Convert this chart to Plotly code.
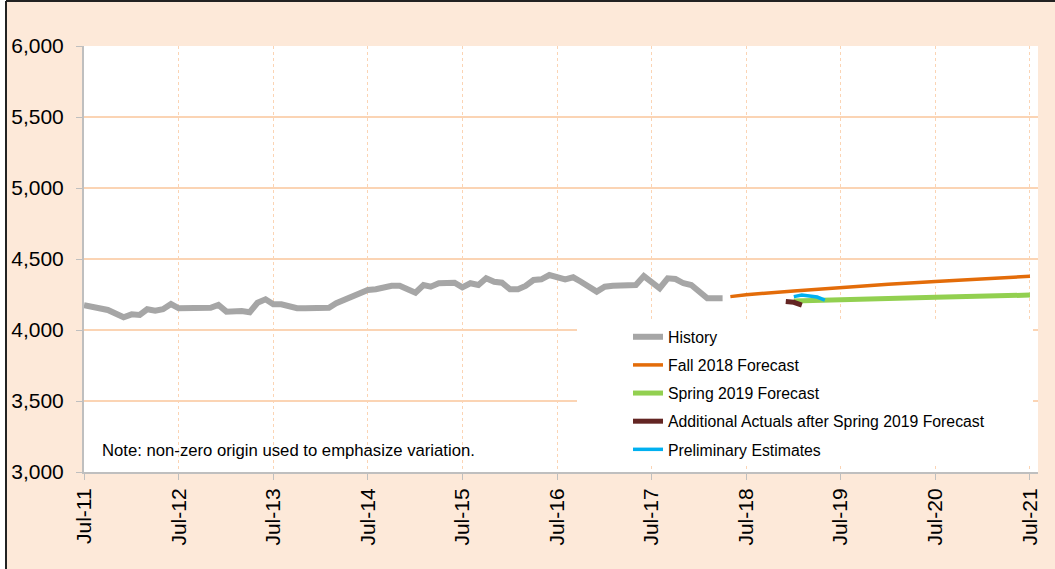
import plotly.graph_objects as go

# ---------------- data ----------------
history_dates = [
    "2011-07-01", "2011-09-01", "2011-10-01", "2011-12-01", "2012-01-01", "2012-02-01",
    "2012-03-01", "2012-04-01", "2012-05-01", "2012-06-01", "2012-07-01", "2012-11-01",
    "2012-12-01", "2013-01-01", "2013-03-01", "2013-04-01", "2013-05-01", "2013-06-01",
    "2013-07-01", "2013-08-01", "2013-10-01", "2013-11-01", "2014-02-01", "2014-03-01",
    "2014-05-01", "2014-06-01", "2014-07-01", "2014-08-01", "2014-10-01", "2014-11-01",
    "2015-01-01", "2015-02-01", "2015-03-01", "2015-04-01", "2015-06-01", "2015-07-01",
    "2015-08-01", "2015-09-01", "2015-10-01", "2015-11-01", "2015-12-01", "2016-01-01",
    "2016-02-01", "2016-03-01", "2016-04-01", "2016-05-01", "2016-06-01", "2016-08-01",
    "2016-09-01", "2016-10-01", "2016-12-01", "2017-01-01", "2017-02-01", "2017-05-01",
    "2017-06-01", "2017-08-01", "2017-09-01", "2017-10-01", "2017-11-01", "2017-12-01",
    "2018-02-01", "2018-04-01",
]
history_values = [
    4175, 4146, 4141, 4090, 4110, 4106,
    4146, 4136, 4146, 4183, 4153, 4157,
    4176, 4129, 4134, 4125, 4192, 4216,
    4181, 4181, 4153, 4153, 4157, 4188,
    4230, 4251, 4282, 4287, 4312, 4312,
    4263, 4317, 4305, 4329, 4333, 4300,
    4329, 4317, 4364, 4340, 4333, 4287,
    4287, 4310, 4352, 4357, 4387, 4357,
    4371, 4340, 4270, 4305, 4312, 4317,
    4380, 4294, 4364, 4359, 4329, 4317,
    4223, 4223,
]

fall2018_dates = ["2018-05-01", "2018-07-01", "2019-01-01", "2019-07-01", "2020-01-01",
                  "2020-07-01", "2021-01-01", "2021-07-01"]
fall2018_values = [4235, 4248, 4275, 4300, 4322, 4342, 4358, 4378]

spring2019_dates = ["2019-01-01", "2019-05-01", "2019-07-01", "2020-07-01", "2021-07-01"]
spring2019_values = [4204, 4208, 4213, 4230, 4246]

actuals_dates = ["2018-12-01", "2019-01-01", "2019-02-01"]
actuals_values = [4200, 4195, 4176]

prelim_dates = ["2019-01-01", "2019-02-01", "2019-04-01", "2019-05-01"]
prelim_values = [4235, 4246, 4232, 4210]

tick_dates = ["2011-07-01", "2012-07-01", "2013-07-01", "2014-07-01", "2015-07-01",
              "2016-07-01", "2017-07-01", "2018-07-01", "2019-07-01", "2020-07-01",
              "2021-07-01"]
tick_labels = ["Jul-11", "Jul-12", "Jul-13", "Jul-14", "Jul-15", "Jul-16", "Jul-17",
               "Jul-18", "Jul-19", "Jul-20", "Jul-21"]

note_text = "Note: non-zero origin used to emphasize variation."

# ---------------- styling ----------------
FONT = "Arial, Liberation Sans, sans-serif"
PEACH = "#FDE9D9"
GRID = "#FBD4B4"
AXIS = "#BFBFBF"

fig = go.Figure()

series = [
    ("History", history_dates, history_values, "#A6A6A6", 6),
    ("Fall 2018 Forecast", fall2018_dates, fall2018_values, "#E36C09", 3.5),
    ("Spring 2019 Forecast", spring2019_dates, spring2019_values, "#92D050", 5),
    ("Additional Actuals after Spring 2019 Forecast", actuals_dates, actuals_values, "#632523", 5),
    ("Preliminary Estimates", prelim_dates, prelim_values, "#00B0F0", 3.5),
]
for name, xs, ys, color, width in series:
    fig.add_trace(go.Scatter(
        x=xs, y=ys, name=name, mode="lines", legendgroup=name,
        line=dict(color=color, width=width, shape="linear"),
    ))

W, H = 1055, 569
L, R, T, B = 84, 17, 46, 97
pw, ph = W - L - R, H - T - B

def px_x(px):
    return (px - L) / pw

def px_y(py):
    return (H - B - py) / ph

fig.update_layout(
    width=W, height=H,
    margin=dict(l=L, r=R, t=T, b=B),
    paper_bgcolor=PEACH,
    plot_bgcolor="white",
    font=dict(family=FONT, color="black"),
    showlegend=True,
    legend=dict(
        x=px_x(628), y=px_y(320), xanchor="left", yanchor="top",
        bgcolor="rgba(255,255,255,0)",
        font=dict(family=FONT, size=15.8, color="black"),
        tracegroupgap=4.6,
        itemwidth=30,
    ),
    xaxis=dict(
        type="date",
        range=["2011-07-01", "2021-08-01"],
        tickvals=tick_dates, ticktext=tick_labels,
        tickangle=-90,
        tickfont=dict(family=FONT, size=21, color="black"),
        showgrid=True, gridcolor=GRID, griddash="dot", gridwidth=1,
        showline=True, linecolor=AXIS, linewidth=2,
        ticks="outside", tickcolor=AXIS, ticklen=6,
        zeroline=False,
    ),
    yaxis=dict(
        range=[3000, 6000],
        dtick=500, tick0=3000,
        tickformat=",",
        tickfont=dict(family=FONT, size=21, color="black"),
        showgrid=True, gridcolor=GRID, gridwidth=1.5,
        showline=True, linecolor=AXIS, linewidth=2,
        ticks="outside", tickcolor=AXIS, ticklen=6,
        ticklabelstandoff=8,
        zeroline=False,
    ),
    shapes=[
        # white box behind the legend
        dict(type="rect", xref="paper", yref="paper", layer="above",
             x0=px_x(577), x1=px_x(1033), y0=px_y(464), y1=px_y(322),
             fillcolor="white", line=dict(width=0)),
        # outer frame
        dict(type="rect", xref="paper", yref="paper", layer="above",
             x0=px_x(0), x1=px_x(6), y0=px_y(H + 5), y1=px_y(-5),
             fillcolor="white", line=dict(width=0)),
        dict(type="line", xref="paper", yref="paper", layer="above",
             x0=px_x(6), x1=px_x(W + 5), y0=px_y(1), y1=px_y(1),
             line=dict(color="#222222", width=2)),
        dict(type="line", xref="paper", yref="paper", layer="above",
             x0=px_x(6), x1=px_x(6), y0=px_y(1), y1=px_y(H + 5),
             line=dict(color="#222222", width=2)),
    ],
    annotations=[
        dict(text=note_text, xref="paper", yref="paper",
             x=px_x(100), y=px_y(450), xanchor="left", yanchor="middle",
             showarrow=False, font=dict(family=FONT, size=16.7, color="black")),
    ],
)

fig.write_html(
    "out.html",
    config={"displayModeBar": False},
    post_script="document.body.style.margin='0';document.body.style.overflow='hidden';",
)
